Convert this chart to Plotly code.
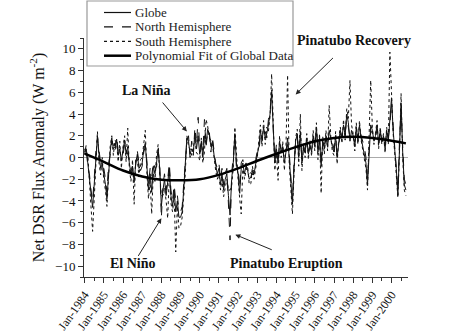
import pandas as pd
import plotly.graph_objects as go

# Monthly anomalies (W m-2), Jan-1984 .. Oct-2000
globe = [
    0.5, 0.8, -0.5, -2.0, -3.5, -4.6, -2.5, 0.0, 2.0, 0.3, -1.0, -0.6,      # 1984
    -1.5, -2.5, -3.8, -1.0, 0.5, 1.8, 0.8, 1.0, 1.7, 0.2, 0.8, -0.3,        # 1985
    0.5, 1.6, 0.3, 1.0, -0.5, -1.5, -0.8, -2.3, -0.5, 0.3, -1.0, -0.8,      # 1986
    -0.5, 0.8, 1.3, -0.8, -3.0, -1.5, -3.2, -0.8, -1.5, -0.5, 0.8, -1.0,    # 1987
    -4.5, -3.0, -2.0, -3.5, -2.5, -1.0, -3.5, -4.5, -3.0, -5.0, -4.0, -5.5, # 1988
    -5.5, -5.0, -3.0, -1.0, 1.8, 1.5, 0.3, 0.8, 0.5, 2.2, 0.8, 2.0,         # 1989
    0.3, 1.5, 0.0, 2.0, 1.2, 2.6, 2.2, 1.0, 1.5, 0.2, -0.8, -1.5,           # 1990
    -1.0, -2.5, -1.5, -3.0, -2.0, -1.5, -3.5, -5.3, -2.0, -0.5, 2.2, -0.5,  # 1991
    -1.5, -3.3, -1.0, -0.5, -1.5, -0.8, -1.2, -2.0, -1.8, -1.2, -1.5, -0.5, # 1992
    0.3, 1.0, 2.5, 1.5, 2.8, 1.8, 2.2, 3.0, 4.0, 6.0, 3.0, -0.5,            # 1993
    0.8, -0.5, 1.5, 0.5, 1.0, -0.5, 0.5, 1.8, 0.0, -2.0, -4.3, -1.0,        # 1994
    1.5, 2.2, 0.0, 2.4, -0.5, 1.0, 0.5, 1.8, 0.3, 1.2, 0.5, 2.0,            # 1995
    1.0, 2.8, 0.5, 1.8, -0.8, 1.5, 0.8, 2.0, 1.0, 2.5, 1.5, 1.0,            # 1996
    0.5, 2.0, 0.0, 1.5, 2.5, 1.8, 3.0, 2.0, 4.0, 3.2, 1.5, 2.5,             # 1997
    2.0, 1.0, 2.8, 1.5, 3.0, 1.8, 1.0, 0.5, -0.5, -2.5, 1.0, 3.0,           # 1998
    2.5, 1.5, 2.0, 3.0, 1.2, 2.5, 1.5, 2.0, 0.8, 2.5, 1.5, 4.0,             # 1999
    5.5, 2.5, 1.0, -1.0, -3.5, 1.0, 5.0, 0.5, -2.5, -3.0,                   # 2000
]
north = [
    0.3, 1.2, -1.0, -1.5, -3.0, -4.0, -2.0, 0.5, 1.8, 0.8, -0.5, -1.0,
    -1.0, -2.0, -3.2, -0.5, 0.2, 1.5, 1.2, 0.5, 1.9, 0.6, 0.3, 0.2,
    0.2, 1.3, 0.8, 0.5, -0.2, -1.0, -1.2, -1.8, -0.8, 0.6, -0.5, -1.2,
    -0.8, 0.5, 1.0, -0.3, -2.5, -1.0, -1.8, -0.4, -1.0, -0.9, 0.5, -0.6,
    -5.6, -2.5, -1.5, -3.0, -2.0, -0.5, -3.0, -4.0, -2.5, -4.0, -3.5, -4.8,
    -5.0, -4.5, -2.5, -0.5, 1.5, 2.0, 0.0, 1.5, 0.2, 2.8, 1.2, 3.7,
    0.8, 1.2, 0.5, 3.5, 1.0, 2.3, 2.5, 0.5, 1.8, 0.6, -0.5, -1.0,
    -0.5, -2.0, -1.0, -2.5, -1.5, -1.0, -4.0, -7.6, -1.5, 0.0, 1.8, -1.0,
    -1.0, -2.8, -0.5, -0.2, -1.0, -0.5, -1.6, -1.5, -1.4, -1.6, -1.0, -0.2,
    0.6, 0.5, 2.0, 2.0, 2.3, 2.4, 1.8, 3.5, 4.2, 6.2, 2.5, 0.0,
    1.2, 0.0, 1.0, 1.0, 0.6, 0.0, 0.2, 1.2, 0.5, -1.5, -4.0, -0.5,
    1.2, 1.8, 0.5, 1.8, 0.0, 0.8, 0.9, 1.5, 0.6, 0.9, 0.8, 1.6,
    1.3, 2.4, 1.0, 1.5, -0.2, 1.2, 1.2, 1.7, 1.3, 1.2, 1.2, 1.4,
    0.8, 1.6, 0.5, 1.2, 2.2, 2.2, 2.6, 2.4, 3.5, 2.8, 1.8, 2.0,
    1.8, 1.4, 2.4, 1.8, 2.6, 2.0, 1.4, 1.0, 0.0, -2.0, 0.8, 2.5,
    2.2, 1.8, 1.8, 2.6, 1.5, 2.2, 1.8, 1.8, 1.2, 2.2, 1.8, 3.0,
    5.0, 2.8, 1.5, -0.5, -3.0, 1.5, 4.5, 1.0, -2.0, -2.5,
]
south = [
    0.8, 0.2, 0.3, -2.8, -4.5, -6.8, -3.2, -0.8, 2.4, -0.5, -1.6, 0.0,
    -2.2, -3.0, -4.5, -1.6, 1.0, 2.0, 0.2, 1.6, 1.4, -0.4, 1.5, -1.0,
    1.0, 2.0, -0.4, 2.7, -1.0, -2.2, -0.2, -4.3, 0.0, -0.2, -1.8, -0.2,
    0.0, 1.3, 2.5, -1.5, -3.8, -2.2, -5.2, -1.4, -2.2, 0.2, 1.2, -1.6,
    -3.5, -3.5, -2.8, -4.0, -5.6, -1.5, -4.2, -5.0, -3.6, -8.7, -4.5, -6.5,
    -6.3, -5.5, -3.5, -1.5, 2.0, 1.0, 0.8, 0.2, 1.0, 1.6, 0.4, 0.3,
    -0.3, 1.8, -0.5, 0.5, 3.5, 2.9, 1.8, 1.6, 1.2, -0.3, -1.2, -2.0,
    -1.6, -3.0, -2.0, -3.6, -2.6, -2.0, -3.0, -3.0, -2.6, -1.0, 2.8, 0.0,
    -2.0, -3.8, -5.2, -0.8, -2.0, -1.2, -0.8, -2.5, -2.4, -0.8, -2.0, -1.0,
    0.0, 1.6, 3.0, 1.0, 3.4, 1.2, 2.8, 2.4, 3.8, 7.7, 3.6, -1.2,
    0.4, -2.1, 2.0, 0.0, 1.5, -1.2, 1.0, 7.6, -0.6, -2.6, -5.2, -1.6,
    1.8, 2.6, -0.8, 4.0, -1.2, 1.3, 0.0, 2.2, -0.2, 1.6, 0.1, 2.5,
    0.6, 3.2, -0.2, 2.2, -3.3, 1.9, 0.3, 2.5, 0.6, 4.8, 1.9, 0.5,
    0.2, 2.4, -0.6, 1.8, 2.8, 1.3, 3.5, 1.6, 4.5, 3.6, 7.1, 3.0,
    2.2, 0.6, 3.2, 1.2, 3.4, 1.6, 0.6, 0.0, -1.0, -3.0, 1.2, 7.1,
    2.8, 1.2, 2.2, 3.4, 0.8, 2.8, 1.2, 2.2, 0.4, 2.8, 1.2, 9.7,
    6.0, 2.2, 0.5, -1.5, -3.7, 0.5, 5.9, 0.0, -3.0, -3.5,
]
months = pd.date_range("1984-01-01", periods=len(globe), freq="MS")

# Polynomial fit of global data, read at yearly points
fit_dates = [f"{y}-01-01" for y in range(1984, 2001)] + ["2000-10-01"]
fit_values = [0.35, -0.4, -1.2, -1.75, -2.05, -2.1, -2.0, -1.6, -1.0, -0.3,
              0.35, 0.95, 1.5, 1.8, 1.9, 1.8, 1.55, 1.3]

series_names = ["Globe", "North Hemisphere", "South Hemisphere", "Polynomial Fit of Global Data"]
series_styles = [dict(color="#111", width=1, dash="solid"),
                 dict(color="#111", width=1, dash="dash"),
                 dict(color="#111", width=1, dash="dot"),
                 dict(color="#000", width=2.5, dash="solid")]

serif = "Liberation Serif, Times New Roman, serif"

fig = go.Figure()
for name, xs, ys, st in zip(series_names,
                            [months, months, months, fit_dates],
                            [globe, north, south, fit_values],
                            series_styles):
    line = dict(st)
    if name.startswith("Polynomial"):
        line["shape"] = "spline"
    fig.add_trace(go.Scatter(x=xs, y=ys, name=name, mode="lines", line=line,
                             showlegend=False))

# Legend drawn as a boxed key in paper coordinates
L, B, W, H = 84, 277, 324, 239  # plot area in pixels (left, bottom, width, height)
px = lambda v: (v - L) / W
py = lambda v: (B - v) / H
fig.add_shape(type="rect", xref="paper", yref="paper", x0=px(87), x1=px(293),
              y0=py(66), y1=py(1), fillcolor="white", line=dict(color="#999", width=1.2),
              layer="above")
for i, (name, st) in enumerate(zip(series_names, series_styles)):
    yc = py(12.5 + 14.4 * i)
    fig.add_shape(type="line", xref="paper", yref="paper", x0=px(104), x1=px(131),
                  y0=yc, y1=yc, line=dict(color=st["color"], width=st["width"] if st["width"] > 1 else 1.2,
                                          dash=st["dash"]), layer="above")
    fig.add_annotation(xref="paper", yref="paper", x=px(133), y=yc, text=name,
                       xanchor="left", yanchor="middle", showarrow=False,
                       font=dict(family=serif, size=13, color="#222"))

notes = [
    dict(text="La Niña", tx="1987-03-20", ty=6.2, hx="1989-05-01", hy=2.4, sx="1988-01-01", sy=5.2),
    dict(text="Pinatubo Recovery", tx="1998-01-20", ty=10.8, hx="1995-01-01", hy=5.8, sx="1997-01-10", sy=9.3),
    dict(text="El Niño", tx="1986-07-01", ty=-9.77, hx="1988-01-01", hy=-5.6, sx="1986-10-01", sy=-9.2),
    dict(text="Pinatubo Eruption", tx="1994-07-20", ty=-9.77, hx="1991-11-10", hy=-7.1, sx="1993-11-01", sy=-8.55),
]
for n in notes:
    fig.add_annotation(x=n["tx"], y=n["ty"], text="<b>" + n["text"] + "</b>", showarrow=False,
                       font=dict(family=serif, size=14, color="#111"))
    fig.add_annotation(x=n["hx"], y=n["hy"], ax=n["sx"], ay=n["sy"], axref="x", ayref="y",
                       text="", showarrow=True, arrowhead=2, arrowsize=1, arrowwidth=1,
                       arrowcolor="#222")

fig.update_layout(
    width=474, height=333,
    margin=dict(l=84, r=66, t=38, b=56),
    paper_bgcolor="white", plot_bgcolor="white",
    font=dict(family=serif, size=13, color="#111"),
    showlegend=False,
)
fig.update_xaxes(
    type="date", range=["1983-12-20", "2000-11-10"], automargin=False,
    tick0="1984-01-01", dtick="M12", tickformat="%b-%Y", tickangle=-55,
    ticks="outside", ticklen=5, tickcolor="#333", showgrid=False, zeroline=False,
    showline=True, linecolor="#333", linewidth=1,
    minor=dict(dtick="M6", ticks="outside", ticklen=3, tickcolor="#333"),
    tickfont=dict(family=serif, size=12, color="#111"),
)
fig.update_yaxes(
    range=[-11, 11], tick0=0, dtick=2, ticks="outside", ticklen=5, tickcolor="#333",
    automargin=False,
    showgrid=False, zeroline=True, zerolinecolor="#aaa", zerolinewidth=1,
    showline=True, linecolor="#333", linewidth=1,
    minor=dict(dtick=1, ticks="outside", ticklen=3, tickcolor="#333"),
    tickfont=dict(family=serif, size=13, color="#111"),
    title=dict(text="Net DSR Flux Anomaly (W m<sup>-2</sup>)", standoff=6,
               font=dict(family=serif, size=16, color="#111")),
)
fig.write_html("out.html")
